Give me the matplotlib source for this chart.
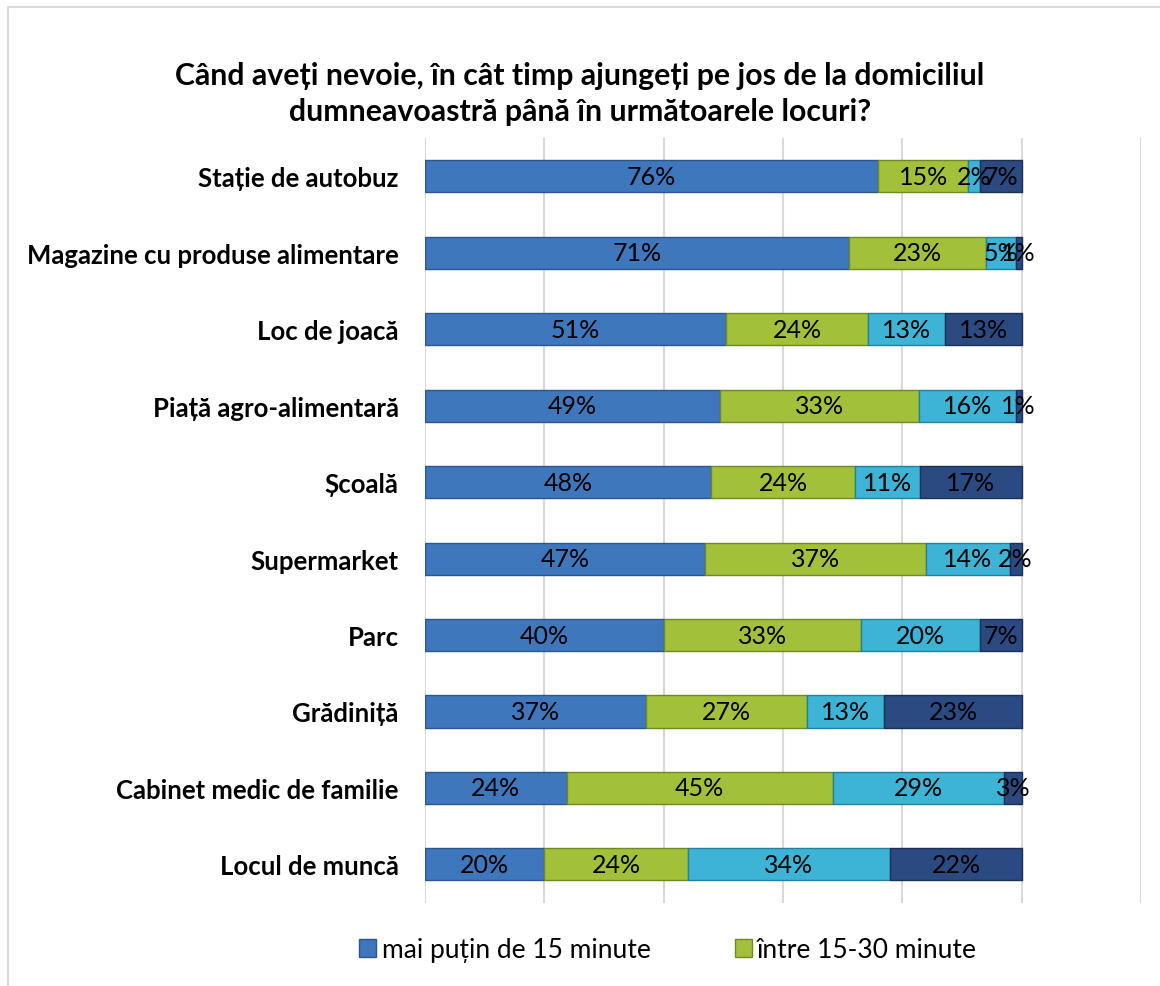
import numpy as np
import matplotlib.pyplot as plt
from matplotlib.patches import Rectangle

# categories, top to bottom
categories = ['Stație de autobuz', 'Magazine cu produse alimentare', 'Loc de joacă',
              'Piață agro-alimentară', 'Școală', 'Supermarket', 'Parc', 'Grădiniță',
              'Cabinet medic de familie', 'Locul de muncă']

# percentages for each time band
under_15 = [76, 71, 51, 49, 48, 47, 40, 37, 24, 20]
between_15_30 = [15, 23, 24, 33, 24, 37, 33, 27, 45, 24]
between_30_60 = [2, 5, 13, 16, 11, 14, 20, 13, 29, 34]
over_60 = [7, 1, 13, 1, 17, 2, 7, 23, 3, 22]

series_names = ['mai puțin de 15 minute', 'între 15-30 minute',
                'între 30-60 minute', 'peste 60 minute']
colors = ['#3F77BC', '#A2C03A', '#3DB3D6', '#2B4A82']
edges = ['#2A5790', '#6F8A22', '#23809E', '#1B3057']

plt.rcParams['font.family'] = ['Lato', 'DejaVu Sans']

data = np.array([under_15, between_15_30, between_30_60, over_60], dtype=float)
shares = data / data.sum(axis=0)

fig = plt.figure(figsize=(11.6, 9.87), dpi=100)
ax = fig.add_axes([0.3664, 0.0845, 0.6172, 0.7745])

y = np.arange(len(categories))
left = np.zeros(len(categories))
handles = []
for i in range(4):
    bars = ax.barh(y, shares[i], left=left, height=0.42, color=colors[i],
                   edgecolor=edges[i], linewidth=1.0, label=series_names[i], zorder=3)
    ax.bar_label(bars, labels=[f'{int(v)}%' for v in data[i]], label_type='center',
                 fontsize=18, color='black', zorder=4)
    handles.append(bars)
    left += shares[i]

ax.set_xlim(0, 1.2)
ax.set_ylim(len(categories) - 0.5, -0.5)
ax.set_xticks(np.arange(0, 1.21, 0.2))
ax.xaxis.grid(True, color='#D9D9D9', linewidth=1.5, zorder=0)
ax.tick_params(axis='x', labelbottom=False, length=0)
ax.tick_params(axis='y', length=0, pad=19)
ax.set_yticks(y)
ax.set_yticklabels(categories, fontsize=18.5, fontweight='bold')
for s in ax.spines.values():
    s.set_visible(False)

fig.text(0.5, 0.905, 'Când aveți nevoie, în cât timp ajungeți pe jos de la domiciliul\n'
         'dumneavoastră până în următoarele locuri?', ha='center', va='center',
         fontsize=21.8, fontweight='bold', linespacing=1.35)

# only the first two legend entries are visible in the original
fig.legend(handles[:2], series_names[:2], loc='center', bbox_to_anchor=(0.576, 0.037),
           ncol=2, frameon=False, fontsize=19, handlelength=0.65, handleheight=0.65,
           handletextpad=0.2, columnspacing=3.2)

# outer chart border (cropped at right and bottom)
fig.patches.append(Rectangle((8 / 1160, -0.01), 1.1, 1 - 8 / 987 + 0.01,
                             transform=fig.transFigure, fill=False,
                             edgecolor='#D9D9D9', linewidth=1.5))

fig.savefig('out.png', dpi=100)
